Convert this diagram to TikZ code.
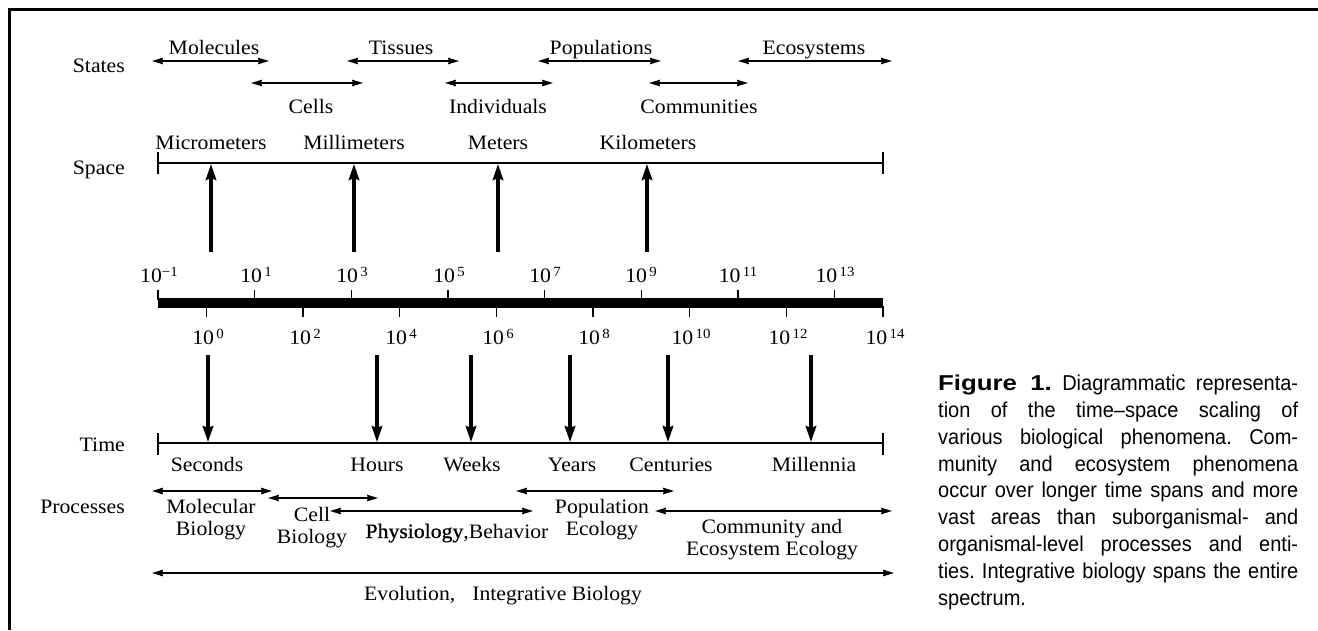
\documentclass[tikz,border=0pt]{standalone}
\usepackage{fontspec}
\setmainfont[FakeStretch=1.06]{Liberation Serif}
\newfontfamily\physfont[FakeStretch=1.06,FakeBold=0.8]{Liberation Serif}
\newfontfamily\capfont[FakeStretch=0.93]{Liberation Sans}
\newfontfamily\figfont[FakeStretch=1.2]{Liberation Sans}
\usetikzlibrary{arrows.meta}
\newcommand\tenpow[1]{10\raisebox{5.5pt}{\fontsize{14}{14}\selectfont\,#1}}
\begin{document}
\begin{tikzpicture}[x=1pt,y=-1pt,
  every node/.style={inner sep=0pt, font=\fontsize{20.5}{22}\selectfont},
  lbl/.style={anchor=base},
  rowlbl/.style={anchor=base east},
  two/.style={anchor=north, align=center},
  harr/.style={line width=1.5pt, {Stealth[length=11pt,width=6.5pt,inset=1pt]}-{Stealth[length=11pt,width=6.5pt,inset=1pt]}},
  varr/.style={line width=3.2pt, -{Stealth[length=16pt,width=10.5pt,inset=2pt]}},
  scaleline/.style={line width=1.5pt},
]
\useasboundingbox (0,0) rectangle (1318,630);
% frame
\draw[line width=3pt] (1318,9) -- (9,9) -- (9,630);

% row labels
\node[rowlbl] (states) at (125,72) {States};
\node[rowlbl] (space) at (125,174) {Space};
\node[rowlbl] (time) at (125,451) {Time};
\node[rowlbl] (proc) at (125,513) {Processes};

% states arrows
\foreach \n/\a/\b/\y in {mol/152/269/61, tis/347/459/61, pop/538/661/61, eco/738/892/61,
                          cel/251/363/83, ind/445/553/83, com/649/748/83}{
  \coordinate (\n-l) at (\a,\y);
  \coordinate (\n-r) at (\b,\y);
  \draw[harr] (\n-l) -- (\n-r);
}
\node[lbl] (lmol) at (214,54) {Molecules};
\node[lbl] (ltis) at (401,54) {Tissues};
\node[lbl] (lpop) at (601,54) {Populations};
\node[lbl] (leco) at (814,54) {Ecosystems};
\node[lbl] (lcel) at (311,113) {Cells};
\node[lbl] (lind) at (498,113) {Individuals};
\node[lbl] (lcom) at (699,113) {Communities};

% space line
\coordinate (spL) at (158,163);
\coordinate (spR) at (883,163);
\draw[scaleline] (spL) -- (spR);
\draw[scaleline] (158,152) -- (158,174);
\draw[scaleline] (883,152) -- (883,174);
\node[lbl] (smic) at (211,149) {Micrometers};
\node[lbl] (smil) at (354,149) {Millimeters};
\node[lbl] (smet) at (498,149) {Meters};
\node[lbl] (skil) at (648,149) {Kilometers};
\foreach \i/\x in {1/211, 2/354, 3/498, 4/647}{
  \coordinate (ua\i) at (\x,252);
  \coordinate (ub\i) at (\x,164);
  \draw[varr] (ua\i) -- (ub\i);
}

% logarithmic bar
\fill (158,298) rectangle (883,308);
\foreach \e in {-1,1,3,5,7,9,11,13}{
  \draw[line width=1.5pt] ({158+48.33*(\e+1)},290) -- ({158+48.33*(\e+1)},300);
}
\foreach \e in {0,2,4,6,8,10,12,14}{
  \draw[line width=1.5pt] ({158+48.33*(\e+1)},306) -- ({158+48.33*(\e+1)},317);
}
\node[lbl] (pm1) at (159,282) {10\raisebox{5.5pt}{\fontsize{14}{14}\selectfont −1}};
\node[lbl] (p1) at (256,282) {\tenpow{1}};
\node[lbl] (p3) at (352,282) {\tenpow{3}};
\node[lbl] (p5) at (449,282) {\tenpow{5}};
\node[lbl] (p7) at (545,282) {\tenpow{7}};
\node[lbl] (p9) at (641,282) {\tenpow{9}};
\node[lbl] (p11) at (738,282) {\tenpow{11}};
\node[lbl] (p13) at (835,282) {\tenpow{13}};
\node[lbl] (p0) at (208,344) {\tenpow{0}};
\node[lbl] (p2) at (305,344) {\tenpow{2}};
\node[lbl] (p4) at (401,344) {\tenpow{4}};
\node[lbl] (p6) at (498,344) {\tenpow{6}};
\node[lbl] (p8) at (594,344) {\tenpow{8}};
\node[lbl] (p10) at (691,344) {\tenpow{10}};
\node[lbl] (p12) at (788,344) {\tenpow{12}};
\node[lbl] (p14) at (885,344) {\tenpow{14}};

% time line
\coordinate (tL) at (158,443);
\coordinate (tR) at (883,443);
\draw[scaleline] (tL) -- (tR);
\draw[scaleline] (158,433) -- (158,455);
\draw[scaleline] (883,433) -- (883,455);
\foreach \i/\x in {1/208, 2/377, 3/471, 4/570, 5/668, 6/811}{
  \coordinate (da\i) at (\x,355);
  \coordinate (db\i) at (\x,442);
  \draw[varr] (da\i) -- (db\i);
}
\node[lbl] (tsec) at (207,471) {Seconds};
\node[lbl] (thou) at (377,471) {Hours};
\node[lbl] (twee) at (472,471) {Weeks};
\node[lbl] (tyea) at (572,471) {Years};
\node[lbl] (tcen) at (671,471) {Centuries};
\node[lbl] (tmil) at (814,471) {Millennia};

% processes
\foreach \n/\a/\b/\y in {pmb/152/272/491, pcb/268/378/498, pph/330/533/511,
                          ppe/516/674/491, pce/655/892/511, pev/152/894/573}{
  \coordinate (\n-l) at (\a,\y);
  \coordinate (\n-r) at (\b,\y);
  \draw[harr] (\n-l) -- (\n-r);
}
\node[two] (lmb) at (211,499) {Molecular\\Biology};
\node[two] (lcb) at (312,507) {Cell\\Biology};
\node[lbl] (lph) at (457,538) {{\physfont Physiology},Behavior};
\node[two] (lpe) at (602,499) {Population\\Ecology};
\node[two] (lce) at (772,519) {Community and\\Ecosystem Ecology};
\node[lbl] (lev) at (503,600) {Evolution,\hspace{17pt}Integrative Biology};

% caption
\node[anchor=north west, text width=360pt, align=justify,
      font=\capfont\fontsize{21.5}{26.8}\selectfont] (cap) at (938,375)
 {\frenchspacing\noindent{\figfont\bfseries Figure 1.} Diagrammatic representa-\linebreak
  tion of the time–space scaling of\linebreak
  various biological phenomena. Com-\linebreak
  munity and ecosystem phenomena\linebreak
  occur over longer time spans and more\linebreak
  vast areas than suborganismal- and\linebreak
  organismal-level processes and enti-\linebreak
  ties. Integrative biology spans the entire\linebreak
  spectrum.};
\end{tikzpicture}
\end{document}
